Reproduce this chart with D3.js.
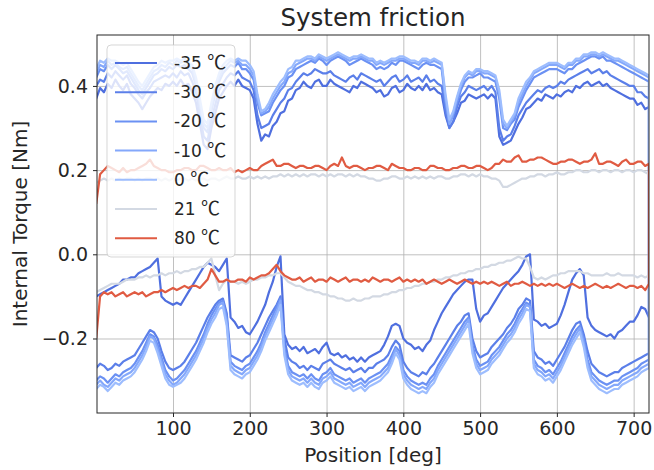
<!DOCTYPE html>
<html lang="en">
<head>
<meta charset="UTF-8">
<title>System friction</title>
<script src="https://d3js.org/d3.v7.min.js"></script>
<style>
  body { margin: 0; background: #fff; font-family: "DejaVu Sans", sans-serif; }
  .grid line { stroke: #b0b0b0; stroke-width: 0.8; }
  .grid path { display: none; }
  .axis path { display: none; }
  .axis line { stroke: #262626; }
  .axis text { font-size: 19px; fill: #262626; font-family: "DejaVu Sans", sans-serif; }
  .trace { fill: none; stroke-width: 2.2; stroke-linejoin: round; }
</style>
</head>
<body>
<svg width="654" height="470"></svg>
<script>
// sample positions (deg), shared by every branch
const positions = [0,5,10,15,20,25,30,35,40,45,50,55,60,65,70,75,80,85,90,95,
  100,105,110,115,120,125,130,135,140,145,150,155,160,165,170,175,180,185,190,195,
  200,205,210,215,220,225,230,235,240,245,250,255,260,265,270,275,280,285,290,295,
  300,305,310,315,320,325,330,335,340,345,350,355,360,365,370,375,380,385,390,395,
  400,405,410,415,420,425,430,435,440,445,450,455,460,465,470,475,480,485,490,495,
  500,505,510,515,520,525,530,535,540,545,550,555,560,565,570,575,580,585,590,595,
  600,605,610,615,620,625,630,635,640,645,650,655,660,665,670,675,680,685,690,695,
  700,705,710,715,720];

// forward sweep (upper branch), Nm
const up35 = [0.37,0.395,0.385,0.405,0.395,0.415,0.40,0.39,0.405,0.38,
  0.37,0.36,0.345,0.36,0.375,0.385,0.395,0.39,0.405,0.40,
  0.41,0.40,0.415,0.40,0.405,0.385,0.36,0.31,0.26,0.25,
  0.30,0.335,0.37,0.385,0.40,0.41,0.40,0.415,0.40,0.395,
  0.39,0.37,0.31,0.27,0.285,0.28,0.305,0.315,0.335,0.34,
  0.365,0.37,0.39,0.395,0.41,0.40,0.395,0.41,0.415,0.40,
  0.40,0.415,0.405,0.40,0.395,0.39,0.385,0.40,0.395,0.41,
  0.405,0.40,0.395,0.385,0.39,0.375,0.38,0.395,0.40,0.385,
  0.39,0.405,0.395,0.39,0.40,0.39,0.405,0.39,0.395,0.385,
  0.38,0.33,0.30,0.315,0.335,0.36,0.365,0.38,0.375,0.37,
  0.375,0.38,0.37,0.38,0.37,0.28,0.26,0.265,0.27,0.29,
  0.31,0.325,0.345,0.35,0.36,0.37,0.365,0.38,0.375,0.37,
  0.38,0.375,0.385,0.39,0.385,0.40,0.395,0.405,0.41,0.40,
  0.405,0.41,0.40,0.405,0.395,0.39,0.385,0.38,0.375,0.37,
  0.37,0.355,0.36,0.345,0.35];
const up30 = [0.40,0.415,0.41,0.43,0.42,0.435,0.425,0.415,0.425,0.405,
  0.395,0.38,0.37,0.385,0.395,0.41,0.415,0.42,0.425,0.42,
  0.43,0.42,0.435,0.425,0.43,0.41,0.385,0.33,0.28,0.27,
  0.32,0.355,0.39,0.405,0.42,0.43,0.425,0.435,0.42,0.415,
  0.41,0.39,0.33,0.30,0.305,0.31,0.33,0.345,0.36,0.37,
  0.39,0.395,0.41,0.42,0.43,0.425,0.43,0.44,0.435,0.43,
  0.43,0.435,0.425,0.42,0.415,0.41,0.42,0.425,0.415,0.43,
  0.425,0.42,0.415,0.41,0.415,0.40,0.41,0.42,0.425,0.41,
  0.415,0.425,0.41,0.415,0.42,0.41,0.425,0.41,0.415,0.405,
  0.40,0.34,0.30,0.315,0.35,0.375,0.385,0.40,0.395,0.39,
  0.395,0.40,0.39,0.40,0.385,0.30,0.27,0.28,0.285,0.305,
  0.33,0.345,0.36,0.37,0.38,0.39,0.385,0.395,0.40,0.395,
  0.40,0.41,0.405,0.415,0.42,0.425,0.43,0.435,0.44,0.43,
  0.435,0.44,0.43,0.435,0.425,0.42,0.415,0.41,0.405,0.40,
  0.40,0.385,0.385,0.375,0.37];
const up20 = [0.42,0.44,0.435,0.45,0.44,0.45,0.44,0.43,0.435,0.42,
  0.405,0.39,0.38,0.395,0.41,0.425,0.43,0.44,0.435,0.445,
  0.44,0.45,0.445,0.45,0.44,0.43,0.40,0.35,0.30,0.29,
  0.34,0.38,0.41,0.43,0.44,0.45,0.445,0.455,0.44,0.44,
  0.43,0.415,0.36,0.33,0.335,0.34,0.36,0.375,0.39,0.40,
  0.42,0.425,0.44,0.445,0.45,0.455,0.46,0.455,0.465,0.46,
  0.45,0.46,0.465,0.47,0.465,0.46,0.45,0.455,0.46,0.465,
  0.46,0.455,0.45,0.44,0.445,0.44,0.445,0.455,0.45,0.46,
  0.46,0.455,0.45,0.445,0.44,0.45,0.455,0.45,0.45,0.445,
  0.44,0.36,0.31,0.33,0.36,0.39,0.41,0.42,0.42,0.425,
  0.43,0.42,0.42,0.415,0.41,0.37,0.30,0.295,0.31,0.32,
  0.35,0.37,0.39,0.405,0.42,0.425,0.43,0.435,0.44,0.44,
  0.44,0.435,0.43,0.44,0.44,0.45,0.455,0.46,0.465,0.47,
  0.47,0.465,0.47,0.46,0.46,0.455,0.45,0.445,0.44,0.435,
  0.43,0.425,0.42,0.415,0.41];
const up10 = [0.43,0.45,0.445,0.46,0.45,0.455,0.445,0.44,0.445,0.43,
  0.415,0.40,0.39,0.405,0.42,0.435,0.44,0.45,0.445,0.455,
  0.45,0.46,0.455,0.46,0.45,0.44,0.41,0.36,0.31,0.30,
  0.35,0.39,0.42,0.44,0.45,0.46,0.455,0.46,0.45,0.45,
  0.44,0.425,0.37,0.335,0.34,0.35,0.37,0.385,0.40,0.41,
  0.43,0.435,0.45,0.455,0.46,0.465,0.465,0.46,0.47,0.465,
  0.46,0.465,0.47,0.475,0.47,0.465,0.46,0.465,0.465,0.47,
  0.465,0.46,0.46,0.45,0.455,0.45,0.455,0.46,0.46,0.465,
  0.465,0.46,0.455,0.455,0.45,0.46,0.46,0.455,0.46,0.455,
  0.45,0.37,0.31,0.335,0.37,0.40,0.42,0.43,0.425,0.435,
  0.435,0.43,0.43,0.425,0.42,0.38,0.31,0.30,0.315,0.33,
  0.36,0.38,0.40,0.415,0.43,0.435,0.44,0.445,0.45,0.45,
  0.45,0.445,0.44,0.45,0.45,0.46,0.46,0.47,0.47,0.475,
  0.475,0.47,0.475,0.47,0.465,0.46,0.46,0.455,0.45,0.445,
  0.44,0.435,0.43,0.425,0.42];
const up0 = [0.44,0.46,0.455,0.465,0.46,0.46,0.455,0.45,0.455,0.44,
  0.425,0.41,0.40,0.415,0.43,0.445,0.45,0.46,0.455,0.46,
  0.46,0.465,0.46,0.465,0.455,0.45,0.42,0.37,0.32,0.31,
  0.36,0.40,0.43,0.45,0.46,0.465,0.46,0.465,0.46,0.46,
  0.45,0.435,0.38,0.34,0.345,0.36,0.38,0.395,0.41,0.42,
  0.44,0.445,0.46,0.46,0.465,0.47,0.47,0.465,0.475,0.47,
  0.465,0.47,0.475,0.48,0.475,0.47,0.465,0.47,0.47,0.475,
  0.47,0.465,0.465,0.455,0.46,0.455,0.46,0.465,0.465,0.47,
  0.47,0.465,0.46,0.46,0.455,0.465,0.465,0.46,0.465,0.46,
  0.455,0.38,0.32,0.34,0.375,0.405,0.425,0.435,0.43,0.44,
  0.44,0.435,0.435,0.43,0.425,0.39,0.32,0.305,0.32,0.335,
  0.37,0.39,0.41,0.42,0.435,0.44,0.445,0.45,0.455,0.455,
  0.455,0.45,0.445,0.455,0.455,0.465,0.465,0.475,0.475,0.48,
  0.48,0.475,0.48,0.475,0.47,0.465,0.465,0.46,0.455,0.45,
  0.445,0.44,0.435,0.43,0.425];
const up21 = [0.17,0.175,0.18,0.175,0.18,0.175,0.18,0.175,0.18,0.18,
  0.175,0.18,0.175,0.18,0.18,0.175,0.18,0.175,0.18,0.175,
  0.18,0.175,0.18,0.18,0.175,0.18,0.175,0.18,0.18,0.175,
  0.18,0.18,0.175,0.18,0.185,0.18,0.18,0.185,0.18,0.18,
  0.185,0.18,0.185,0.18,0.185,0.18,0.185,0.185,0.19,0.185,
  0.19,0.185,0.19,0.185,0.19,0.185,0.19,0.19,0.185,0.19,
  0.185,0.19,0.185,0.19,0.19,0.185,0.19,0.185,0.19,0.185,
  0.185,0.18,0.18,0.175,0.175,0.18,0.18,0.185,0.185,0.18,
  0.18,0.185,0.18,0.185,0.18,0.185,0.18,0.185,0.18,0.185,
  0.185,0.18,0.18,0.185,0.185,0.19,0.19,0.185,0.19,0.185,
  0.19,0.185,0.185,0.18,0.18,0.175,0.16,0.16,0.165,0.17,
  0.175,0.18,0.18,0.185,0.185,0.19,0.19,0.185,0.19,0.19,
  0.195,0.19,0.19,0.195,0.195,0.2,0.2,0.195,0.195,0.2,
  0.2,0.195,0.2,0.2,0.195,0.2,0.2,0.195,0.2,0.2,
  0.195,0.2,0.2,0.195,0.19];
const up80 = [0.12,0.19,0.20,0.21,0.205,0.20,0.195,0.205,0.195,0.20,
  0.20,0.205,0.21,0.215,0.225,0.21,0.205,0.20,0.20,0.195,
  0.195,0.20,0.20,0.205,0.205,0.20,0.20,0.21,0.21,0.205,
  0.20,0.20,0.205,0.20,0.20,0.205,0.195,0.20,0.195,0.20,
  0.205,0.20,0.20,0.21,0.215,0.22,0.225,0.21,0.21,0.215,
  0.215,0.21,0.205,0.21,0.21,0.205,0.205,0.21,0.21,0.205,
  0.20,0.21,0.215,0.21,0.23,0.21,0.205,0.21,0.21,0.205,
  0.20,0.205,0.205,0.21,0.21,0.205,0.20,0.215,0.21,0.205,
  0.205,0.20,0.20,0.205,0.205,0.20,0.20,0.21,0.21,0.205,
  0.205,0.20,0.20,0.205,0.205,0.21,0.21,0.205,0.205,0.21,
  0.21,0.205,0.20,0.205,0.215,0.215,0.225,0.22,0.22,0.23,
  0.235,0.22,0.22,0.225,0.225,0.23,0.23,0.225,0.22,0.215,
  0.215,0.22,0.22,0.225,0.225,0.22,0.215,0.22,0.22,0.225,
  0.24,0.215,0.215,0.22,0.22,0.215,0.21,0.22,0.225,0.215,
  0.215,0.22,0.22,0.21,0.215];

// return sweep (lower branch), same positions
const lo35 = [-0.10,-0.095,-0.09,-0.085,-0.08,-0.075,-0.07,-0.06,-0.06,-0.055,
  -0.055,-0.045,-0.04,-0.035,-0.03,-0.02,-0.01,-0.10,-0.11,-0.115,
  -0.12,-0.115,-0.12,-0.105,-0.09,-0.075,-0.06,-0.045,-0.03,-0.02,
  -0.025,-0.03,-0.04,-0.025,-0.01,-0.15,-0.16,-0.175,-0.17,-0.185,
  -0.19,-0.175,-0.16,-0.14,-0.12,-0.09,-0.065,-0.03,-0.005,-0.19,
  -0.215,-0.225,-0.22,-0.23,-0.22,-0.235,-0.23,-0.225,-0.235,-0.22,
  -0.21,-0.235,-0.24,-0.235,-0.245,-0.24,-0.25,-0.245,-0.255,-0.245,
  -0.255,-0.245,-0.24,-0.235,-0.23,-0.215,-0.195,-0.17,-0.165,-0.17,
  -0.2,-0.21,-0.215,-0.225,-0.22,-0.23,-0.215,-0.205,-0.18,-0.16,
  -0.14,-0.125,-0.11,-0.095,-0.085,-0.075,-0.065,-0.06,-0.06,-0.13,
  -0.16,-0.145,-0.14,-0.125,-0.11,-0.095,-0.08,-0.07,-0.06,-0.05,
  -0.04,-0.025,-0.005,0.0,-0.155,-0.16,-0.17,-0.165,-0.175,-0.17,
  -0.165,-0.145,-0.12,-0.09,-0.06,-0.045,-0.035,-0.05,-0.15,-0.17,
  -0.18,-0.185,-0.19,-0.195,-0.19,-0.2,-0.185,-0.18,-0.17,-0.16,
  -0.16,-0.145,-0.125,-0.13,-0.15];
const lo30 = [-0.27,-0.26,-0.265,-0.275,-0.27,-0.26,-0.265,-0.255,-0.25,-0.245,
  -0.24,-0.225,-0.21,-0.195,-0.18,-0.185,-0.2,-0.23,-0.255,-0.27,
  -0.275,-0.27,-0.265,-0.255,-0.24,-0.225,-0.21,-0.19,-0.17,-0.15,
  -0.135,-0.12,-0.11,-0.105,-0.14,-0.24,-0.245,-0.25,-0.255,-0.245,
  -0.24,-0.225,-0.21,-0.19,-0.17,-0.15,-0.135,-0.12,-0.1,-0.2,
  -0.245,-0.255,-0.26,-0.27,-0.265,-0.275,-0.265,-0.27,-0.275,-0.26,
  -0.255,-0.25,-0.26,-0.265,-0.27,-0.275,-0.27,-0.28,-0.275,-0.27,
  -0.28,-0.27,-0.27,-0.26,-0.255,-0.25,-0.24,-0.22,-0.205,-0.215,
  -0.255,-0.27,-0.28,-0.285,-0.29,-0.28,-0.285,-0.27,-0.26,-0.245,
  -0.23,-0.215,-0.2,-0.185,-0.17,-0.16,-0.145,-0.14,-0.2,-0.23,
  -0.245,-0.24,-0.235,-0.22,-0.21,-0.2,-0.19,-0.175,-0.165,-0.15,
  -0.13,-0.12,-0.105,-0.11,-0.23,-0.245,-0.25,-0.26,-0.255,-0.265,
  -0.25,-0.235,-0.22,-0.2,-0.18,-0.165,-0.16,-0.19,-0.23,-0.26,
  -0.27,-0.28,-0.285,-0.29,-0.285,-0.28,-0.28,-0.27,-0.265,-0.26,
  -0.255,-0.25,-0.245,-0.24,-0.235];
const lo20 = [-0.30,-0.29,-0.295,-0.305,-0.295,-0.285,-0.29,-0.28,-0.275,-0.27,
  -0.26,-0.245,-0.23,-0.21,-0.19,-0.195,-0.215,-0.245,-0.275,-0.29,
  -0.30,-0.295,-0.285,-0.275,-0.26,-0.245,-0.23,-0.21,-0.19,-0.165,
  -0.145,-0.13,-0.115,-0.11,-0.15,-0.255,-0.265,-0.27,-0.275,-0.265,
  -0.26,-0.245,-0.23,-0.21,-0.185,-0.165,-0.145,-0.125,-0.105,-0.22,
  -0.265,-0.28,-0.285,-0.29,-0.285,-0.295,-0.285,-0.295,-0.3,-0.285,
  -0.28,-0.27,-0.285,-0.29,-0.295,-0.3,-0.295,-0.305,-0.3,-0.295,
  -0.305,-0.295,-0.29,-0.285,-0.28,-0.27,-0.26,-0.24,-0.22,-0.23,
  -0.275,-0.29,-0.3,-0.305,-0.31,-0.305,-0.31,-0.295,-0.285,-0.265,
  -0.25,-0.235,-0.22,-0.205,-0.19,-0.175,-0.16,-0.15,-0.215,-0.25,
  -0.265,-0.26,-0.255,-0.24,-0.23,-0.22,-0.205,-0.19,-0.18,-0.165,
  -0.145,-0.13,-0.115,-0.12,-0.25,-0.265,-0.27,-0.28,-0.275,-0.285,
  -0.27,-0.255,-0.235,-0.215,-0.195,-0.18,-0.17,-0.2,-0.25,-0.28,
  -0.29,-0.3,-0.305,-0.31,-0.305,-0.3,-0.3,-0.29,-0.285,-0.28,
  -0.275,-0.27,-0.26,-0.255,-0.25];
const lo10 = [-0.31,-0.30,-0.31,-0.315,-0.305,-0.295,-0.30,-0.29,-0.285,-0.28,
  -0.27,-0.255,-0.24,-0.22,-0.195,-0.2,-0.225,-0.255,-0.285,-0.30,
  -0.31,-0.305,-0.295,-0.285,-0.27,-0.255,-0.24,-0.22,-0.2,-0.175,
  -0.155,-0.14,-0.12,-0.115,-0.16,-0.265,-0.275,-0.28,-0.285,-0.275,
  -0.27,-0.255,-0.24,-0.22,-0.195,-0.175,-0.155,-0.135,-0.11,-0.23,
  -0.275,-0.29,-0.295,-0.3,-0.295,-0.305,-0.295,-0.305,-0.31,-0.295,
  -0.29,-0.28,-0.295,-0.3,-0.305,-0.31,-0.305,-0.315,-0.31,-0.305,
  -0.315,-0.305,-0.3,-0.295,-0.29,-0.28,-0.27,-0.25,-0.225,-0.24,
  -0.285,-0.3,-0.31,-0.315,-0.32,-0.315,-0.32,-0.305,-0.295,-0.275,
  -0.26,-0.245,-0.23,-0.215,-0.2,-0.185,-0.17,-0.155,-0.225,-0.26,
  -0.275,-0.27,-0.265,-0.25,-0.24,-0.23,-0.215,-0.2,-0.19,-0.175,
  -0.155,-0.14,-0.12,-0.125,-0.26,-0.275,-0.28,-0.29,-0.285,-0.295,
  -0.28,-0.265,-0.245,-0.225,-0.205,-0.19,-0.175,-0.21,-0.26,-0.29,
  -0.3,-0.31,-0.315,-0.32,-0.315,-0.31,-0.31,-0.3,-0.295,-0.29,
  -0.285,-0.28,-0.27,-0.265,-0.26];
const lo0 = [-0.32,-0.31,-0.315,-0.325,-0.315,-0.305,-0.31,-0.3,-0.295,-0.29,
  -0.28,-0.265,-0.25,-0.23,-0.205,-0.21,-0.235,-0.265,-0.295,-0.31,
  -0.315,-0.31,-0.305,-0.295,-0.28,-0.265,-0.25,-0.23,-0.21,-0.185,
  -0.165,-0.15,-0.13,-0.125,-0.17,-0.275,-0.285,-0.29,-0.295,-0.285,
  -0.28,-0.265,-0.25,-0.23,-0.205,-0.185,-0.165,-0.145,-0.12,-0.24,
  -0.285,-0.3,-0.305,-0.31,-0.305,-0.315,-0.305,-0.315,-0.32,-0.305,
  -0.3,-0.29,-0.305,-0.31,-0.315,-0.32,-0.315,-0.325,-0.32,-0.315,
  -0.325,-0.315,-0.31,-0.305,-0.3,-0.29,-0.28,-0.26,-0.235,-0.25,
  -0.295,-0.31,-0.32,-0.325,-0.33,-0.325,-0.33,-0.315,-0.305,-0.285,
  -0.27,-0.255,-0.24,-0.225,-0.21,-0.195,-0.18,-0.165,-0.235,-0.27,
  -0.285,-0.28,-0.275,-0.26,-0.25,-0.24,-0.225,-0.21,-0.2,-0.185,
  -0.165,-0.15,-0.13,-0.135,-0.27,-0.285,-0.29,-0.3,-0.295,-0.305,
  -0.29,-0.275,-0.255,-0.235,-0.215,-0.2,-0.185,-0.22,-0.27,-0.3,
  -0.31,-0.32,-0.325,-0.33,-0.325,-0.32,-0.32,-0.31,-0.305,-0.3,
  -0.295,-0.29,-0.28,-0.275,-0.27];
const lo21 = [-0.09,-0.085,-0.08,-0.075,-0.07,-0.07,-0.07,-0.065,-0.06,-0.06,
  -0.06,-0.055,-0.055,-0.05,-0.055,-0.05,-0.05,-0.045,-0.05,-0.045,
  -0.045,-0.04,-0.045,-0.04,-0.04,-0.035,-0.035,-0.03,-0.03,-0.02,
  -0.01,-0.05,-0.085,-0.07,-0.06,-0.065,-0.065,-0.07,-0.065,-0.07,
  -0.065,-0.06,-0.06,-0.055,-0.055,-0.05,-0.05,-0.045,-0.045,-0.055,
  -0.065,-0.07,-0.075,-0.075,-0.08,-0.085,-0.085,-0.09,-0.09,-0.095,
  -0.095,-0.1,-0.1,-0.105,-0.105,-0.11,-0.11,-0.105,-0.11,-0.11,
  -0.105,-0.105,-0.1,-0.1,-0.1,-0.095,-0.095,-0.09,-0.09,-0.085,
  -0.085,-0.08,-0.08,-0.075,-0.075,-0.07,-0.07,-0.065,-0.065,-0.06,
  -0.06,-0.055,-0.055,-0.05,-0.05,-0.045,-0.045,-0.04,-0.04,-0.035,
  -0.035,-0.03,-0.03,-0.025,-0.025,-0.02,-0.02,-0.015,-0.015,-0.01,
  -0.005,-0.01,-0.01,-0.03,-0.055,-0.06,-0.055,-0.06,-0.055,-0.05,
  -0.05,-0.045,-0.045,-0.04,-0.04,-0.04,-0.04,-0.045,-0.045,-0.05,
  -0.05,-0.05,-0.05,-0.045,-0.05,-0.05,-0.045,-0.05,-0.05,-0.05,
  -0.05,-0.055,-0.05,-0.055,-0.05];
const lo80 = [-0.2,-0.1,-0.09,-0.095,-0.09,-0.1,-0.095,-0.09,-0.1,-0.095,
  -0.09,-0.095,-0.09,-0.1,-0.095,-0.09,-0.09,-0.085,-0.09,-0.085,
  -0.08,-0.085,-0.08,-0.075,-0.08,-0.075,-0.075,-0.08,-0.07,-0.06,
  -0.035,-0.05,-0.065,-0.065,-0.06,-0.065,-0.065,-0.06,-0.06,-0.065,
  -0.055,-0.06,-0.055,-0.05,-0.05,-0.045,-0.035,-0.025,-0.04,-0.05,
  -0.055,-0.06,-0.06,-0.055,-0.065,-0.06,-0.055,-0.065,-0.06,-0.06,
  -0.065,-0.055,-0.06,-0.065,-0.06,-0.055,-0.065,-0.06,-0.06,-0.065,
  -0.06,-0.065,-0.055,-0.06,-0.065,-0.06,-0.06,-0.065,-0.06,-0.055,
  -0.065,-0.06,-0.065,-0.06,-0.065,-0.06,-0.07,-0.065,-0.06,-0.065,
  -0.07,-0.065,-0.06,-0.065,-0.07,-0.065,-0.06,-0.065,-0.07,-0.065,
  -0.07,-0.065,-0.07,-0.065,-0.07,-0.075,-0.07,-0.065,-0.075,-0.07,
  -0.07,-0.065,-0.07,-0.075,-0.07,-0.075,-0.07,-0.075,-0.07,-0.075,
  -0.07,-0.075,-0.08,-0.075,-0.07,-0.075,-0.08,-0.075,-0.08,-0.075,
  -0.07,-0.075,-0.08,-0.075,-0.08,-0.075,-0.07,-0.075,-0.08,-0.075,
  -0.075,-0.08,-0.075,-0.085,-0.07];

const labels = ["-35 ℃", "-30 ℃", "-20 ℃", "-10 ℃", "0 ℃", "21 ℃", "80 ℃"];
const colors = ["#4f6fdf", "#5b7fe9", "#6b91f3", "#84a8fb", "#9dbdfe", "#d3d9e3", "#e05b42"];
const uppers = [up35, up30, up20, up10, up0, up21, up80];
const lowers = [lo35, lo30, lo20, lo10, lo0, lo21, lo80];
const xTicks = [100, 200, 300, 400, 500, 600, 700];
const yTicks = [-0.2, 0.0, 0.2, 0.4];

const svg = d3.select("svg"),
      margin = {top: 35, right: 5, bottom: 57, left: 97},
      width = +svg.attr("width") - margin.left - margin.right,
      height = +svg.attr("height") - margin.top - margin.bottom;

const g = svg.append("g").attr("transform", `translate(${margin.left},${margin.top})`);

const x = d3.scaleLinear().domain([1, 720]).range([0, width]);
const y = d3.scaleLinear().domain([-0.377, 0.521]).range([height, 0]);

// grid
g.append("g").attr("class", "grid")
  .attr("transform", `translate(0,${height})`)
  .call(d3.axisBottom(x).tickValues(xTicks).tickSize(-height).tickFormat(""));
g.append("g").attr("class", "grid")
  .call(d3.axisLeft(y).tickValues(yTicks).tickSize(-width).tickFormat(""));

// traces: forward sweep, then the way back
svg.append("defs").append("clipPath").attr("id", "plot")
  .append("rect").attr("width", width).attr("height", height);

const line = d3.line().x(d => x(d[0])).y(d => y(d[1]));

const series = labels.map((label, i) => ({
  label: label,
  color: colors[i],
  points: positions.map((p, j) => [p, uppers[i][j]])
    .concat(positions.map((p, j) => [p, lowers[i][j]]).reverse())
}));

g.append("g").attr("clip-path", "url(#plot)")
  .selectAll("path")
  .data(series)
  .enter().append("path")
  .attr("class", "trace")
  .attr("stroke", d => d.color)
  .attr("d", d => line(d.points));

// frame
g.append("rect")
  .attr("width", width).attr("height", height)
  .attr("fill", "none").attr("stroke", "#262626").attr("stroke-width", 1);

// axes
g.append("g").attr("class", "axis")
  .attr("transform", `translate(0,${height})`)
  .call(d3.axisBottom(x).tickValues(xTicks).tickSize(4).tickPadding(5).tickFormat(d3.format("d")));
g.append("g").attr("class", "axis")
  .call(d3.axisLeft(y).tickValues(yTicks).tickSize(4).tickPadding(5).tickFormat(d3.format(".1f")));

svg.append("text")
  .attr("x", margin.left + width / 2)
  .attr("y", 26)
  .attr("text-anchor", "middle")
  .style("font-size", "24.5px")
  .attr("fill", "#262626")
  .text("System friction");

svg.append("text")
  .attr("x", margin.left + width / 2)
  .attr("y", 462)
  .attr("text-anchor", "middle")
  .style("font-size", "20px")
  .attr("fill", "#262626")
  .text("Position [deg]");

svg.append("text")
  .attr("transform", `translate(27,${margin.top + height / 2}) rotate(-90)`)
  .attr("text-anchor", "middle")
  .style("font-size", "20px")
  .attr("fill", "#262626")
  .text("Internal Torque [Nm]");

// legend
const legend = g.append("g").attr("transform", "translate(10,10)");
legend.append("rect")
  .attr("width", 128).attr("height", 212).attr("rx", 4)
  .attr("fill", "#fff").attr("fill-opacity", 0.8)
  .attr("stroke", "#cccccc").attr("stroke-opacity", 0.8);

const rows = legend.selectAll(".row")
  .data(series)
  .enter().append("g")
  .attr("transform", (d, i) => `translate(0,${18 + i * 29.2})`);
rows.append("line")
  .attr("x1", 8).attr("x2", 50)
  .attr("stroke", d => d.color).attr("stroke-width", 2);
const txt = rows.append("text")
  .attr("x", 67).attr("dy", "0.35em")
  .style("font-size", "17px")
  .attr("fill", "#262626");
txt.append("tspan").text(d => d.label.split(" ")[0] + " ");
txt.append("tspan")
  .style("font-family", "'Noto Sans CJK JP', 'DejaVu Sans', sans-serif")
  .style("font-size", "19px")
  .text(d => d.label.split(" ")[1]);
</script>
</body>
</html>
